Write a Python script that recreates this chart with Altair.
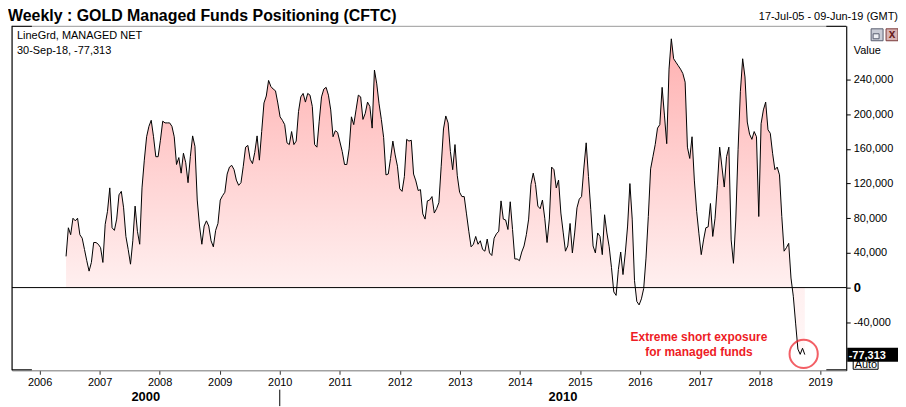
import altair as alt
import pandas as pd

# ---------------- data ----------------
start_date = "2006-06-11"          # first plotted reading, two-week sampling
step_days = 14
# Managed-money net position, thousands of contracts
net_k = [
    36, 69, 61, 80, 77, 80, 61, 57, 44, 31, 19, 29, 52, 52, 50, 46, 29, 73, 88, 115,
    69, 66, 79, 107, 111, 92, 59, 44, 27, 54, 94, 65, 50, 115, 147, 174, 186, 193, 174, 151,
    151, 170, 192, 190, 190, 190, 186, 174, 142, 150, 132, 155, 144, 121, 151, 175, 163, 101, 71, 50,
    71, 77, 71, 54, 47, 66, 74, 101, 106, 110, 131, 139, 141, 136, 124, 118, 121, 140, 162, 164,
    148, 143, 156, 175, 147, 180, 213, 221, 239, 232, 229, 227, 213, 197, 193, 188, 167, 165, 180, 165,
    169, 203, 220, 224, 214, 224, 222, 209, 165, 162, 192, 220, 229, 231, 222, 205, 174, 181, 179, 168,
    157, 142, 142, 160, 197, 188, 205, 222, 220, 194, 201, 214, 209, 184, 251, 235, 212, 194, 173, 130,
    131, 149, 169, 153, 140, 114, 111, 128, 171, 169, 170, 131, 123, 112, 113, 85, 79, 100, 101, 105,
    86, 91, 98, 140, 183, 198, 190, 157, 136, 165, 129, 110, 105, 105, 85, 65, 47, 50, 59, 50,
    54, 44, 42, 56, 40, 37, 57, 62, 65, 100, 79, 78, 67, 99, 67, 33, 33, 31, 41, 48,
    61, 79, 119, 132, 119, 94, 91, 101, 80, 52, 79, 139, 136, 115, 124, 86, 64, 42, 48, 74,
    40, 63, 92, 102, 105, 138, 167, 128, 90, 48, 40, 63, 59, 38, 84, 63, 47, 23, -5, -9,
    21, 41, 15, 40, 71, 120, 79, 8, -16, -20, -13, -1, 34, 82, 137, 151, 165, 184, 188, 231,
    199, 166, 252, 287, 264, 260, 256, 252, 247, 237, 162, 149, 174, 124, 88, 62, 38, 55, 69, 70,
    97, 59, 80, 118, 162, 139, 116, 151, 162, 55, 28, 78, 159, 226, 264, 243, 191, 177, 171, 180,
    174, 82, 189, 205, 214, 182, 178, 155, 136, 139, 130, 82, 42, 46, 51, 11, -10, -41, -71, -77,
    -70, -77.313,
]
years = list(range(2006, 2020))
y_ticks = [-40000, 0, 40000, 80000, 120000, 160000, 200000, 240000]
x_domain = ["2005-07-17", "2019-06-09"]
y_domain = [-95400, 302000]

title_text = "Weekly : GOLD Managed Funds Positioning (CFTC)"
range_text = "17-Jul-05 - 09-Jun-19 (GMT)"
legend_lines = ["LineGrd, MANAGED NET", "30-Sep-18, -77,313"]
note_lines = ["Extreme short exposure", "for managed funds"]
note_dates = ["2016-12-25", "2016-12-25"]
note_values = [-62000, -79300]
circle_dates = ["2018-09-23"]
circle_values = [-76500]
last_label = "-77,313"
decade_labels = ["2000", "2010"]
decade_centers = ["2007-10-09", "2014-09-20"]
decade_breaks = ["2010-01-01"]

# ---------------- tables ----------------
dates = pd.date_range(start_date, periods=len(net_k), freq=f"{step_days}D")
df = pd.DataFrame({"date": dates.strftime("%Y-%m-%d"), "value": [v * 1000 for v in net_k]})
note_df = pd.DataFrame({"date": note_dates, "value": note_values, "text": note_lines})
circle_df = pd.DataFrame({"date": circle_dates, "value": circle_values})
decade_df = pd.DataFrame({"date": decade_centers, "text": decade_labels})
break_df = pd.DataFrame({"date": decade_breaks})
one = pd.DataFrame({"k": [0]})


def dt(s):
    y, m, d = (int(p) for p in s.split("-"))
    return alt.DateTime(year=y, month=m, date=d, utc=True)


FONT = "Liberation Sans"
W, H = 838, 346
RED = "#EE1C25"

xscale = alt.Scale(type="utc", domain=[dt(x_domain[0]), dt(x_domain[1])])
yscale = alt.Scale(domain=y_domain, nice=False, zero=False)

xaxis = alt.Axis(
    values=[alt.DateTime(year=y, month=1, date=1, utc=True) for y in years],
    format="%Y", formatType="utc", grid=False, domainColor="#9A9A9A",
    tickColor="#333333", tickSize=4, labelPadding=2, labelFont=FONT,
    labelFontSize=11, labelColor="black", labelFlush=False,
)
yaxis = alt.Axis(
    orient="right", values=y_ticks, grid=False, domainColor="black",
    tickColor="black", tickSize=4, labelPadding=3, labelFont=FONT,
    labelColor="black",
    labelExpr="replace(format(datum.value, ',d'), '\u2212', '-')",
    labelFontSize=alt.ExprRef(expr="datum.value == 0 ? 13 : 11"),
    labelFontWeight=alt.ExprRef(expr="datum.value == 0 ? 'bold' : 'normal'"),
    titleAngle=0, titleAlign="left", titleBaseline="alphabetic",
    titleX=7, titleY=28, titleFont=FONT, titleFontSize=11,
    titleFontWeight="normal", titleColor="black",
)

X = alt.X("date:T", scale=xscale, axis=xaxis, title=None)
Y = alt.Y("value:Q", scale=yscale, axis=yaxis, title="Value")

grad = alt.Gradient(
    gradient="linear", x1=0, x2=0, y1=0, y2=1,
    stops=[
        alt.GradientStop(offset=0, color="#FFB0B0"),
        alt.GradientStop(offset=0.79, color="#FFF0F0"),
        alt.GradientStop(offset=1, color="#FFF7F7"),
    ],
)

area = alt.Chart(df).mark_area(color=grad).encode(x=X, y=Y, y2=alt.datum(0))
zero_rule = alt.Chart(one).mark_rule(color="black", strokeWidth=1).encode(y=alt.datum(0))
line = alt.Chart(df).mark_line(color="black", strokeWidth=1).encode(x=X, y=Y)

# frame pieces
left_rule = alt.Chart(one).mark_rule(color="black").encode(
    x=alt.value(0), y=alt.value(0), y2=alt.value(H))
corners = [
    alt.Chart(one).mark_rule(color="black").encode(x=alt.value(x0), x2=alt.value(x0 + 20), y=alt.value(yy))
    for x0 in (0, W - 20) for yy in (0.5, H - 0.5)
]


def label(text, x, y, size=11, weight="normal", align="left", color="black"):
    return alt.Chart(one).mark_text(
        text=text, font=FONT, fontSize=size, fontWeight=weight, align=align,
        baseline="alphabetic", color=color,
    ).encode(x=alt.value(x), y=alt.value(y))


title = label(title_text, -4, -5, size=16, weight="bold")
rng = label(range_text, 890, -5.5, size=11, align="right")
leg1 = label(legend_lines[0], 5, 13.5)
leg2 = label(legend_lines[1], 5, 28.5)

notes = alt.Chart(note_df).mark_text(
    font=FONT, fontSize=12, fontWeight="bold", color=RED, align="center", baseline="alphabetic"
).encode(x=X, y=Y, text="text:N")
circle = alt.Chart(circle_df).mark_point(
    shape="circle", size=804, filled=False, color=RED, strokeWidth=2
).encode(x=X, y=Y)

decades = alt.Chart(decade_df).mark_text(
    font=FONT, fontSize=13, fontWeight="bold", color="black", align="center", baseline="alphabetic"
).encode(x=X, y=alt.value(376.5), text="text:N")
decade_tick = alt.Chart(break_df).mark_rule(color="black").encode(
    x=X, y=alt.value(365.5), y2=alt.value(382))

auto_box = alt.Chart(one).mark_rect(fill="white", stroke="black", strokeWidth=1).encode(
    x=alt.value(845), x2=alt.value(870), y=alt.value(331), y2=alt.value(345))
auto_txt = label("Auto", 846.5, 343.5, size=11)
last_box = alt.Chart(one).mark_rect(color="black").encode(
    x=alt.value(839), x2=alt.value(893), y=alt.value(323.5), y2=alt.value(337.5))
last_txt = label(last_label, 840.5, 334.5, size=11, weight="bold", color="white")

icon1 = alt.Chart(one).mark_rect(fill="#C9CCD6", stroke="#5A5F70", strokeWidth=1).encode(
    x=alt.value(863), x2=alt.value(875), y=alt.value(3), y2=alt.value(15))
icon1b = alt.Chart(one).mark_rect(fill="#EEF0F5", stroke="#5A5F70", strokeWidth=1).encode(
    x=alt.value(865), x2=alt.value(871), y=alt.value(8), y2=alt.value(13))
icon2 = alt.Chart(one).mark_rect(fill="#D9B3B3", stroke="#7A3A3A", strokeWidth=1).encode(
    x=alt.value(878), x2=alt.value(890), y=alt.value(3), y2=alt.value(15))
icon2x = alt.Chart(one).mark_text(text="x", font=FONT, fontSize=12, fontWeight="bold",
                                  color="#6A2020", align="center", baseline="middle").encode(
    x=alt.value(884), y=alt.value(8.5))

chart = alt.layer(
    area, zero_rule, line, left_rule, *corners, title, rng, leg1, leg2, notes, circle,
    decades, decade_tick, auto_box, auto_txt, last_box, last_txt, icon1, icon1b, icon2, icon2x,
).properties(
    width=W, height=H,
    padding={"left": 4, "top": 17, "right": 52, "bottom": 36},
    autosize=alt.AutoSizeParams(type="none"),
).configure(font=FONT).configure_view(stroke="#9A9A9A", strokeWidth=1)

chart.save("out.html", embed_options={"renderer": "svg", "actions": False})
